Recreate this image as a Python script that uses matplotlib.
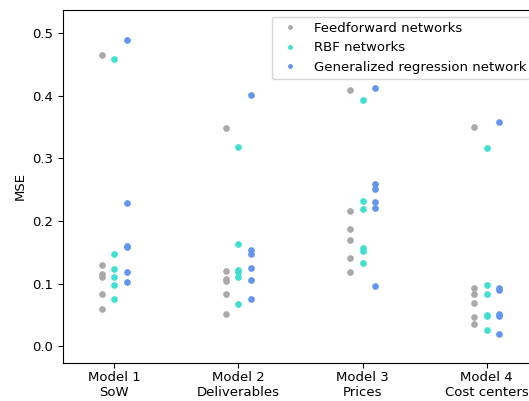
import matplotlib
matplotlib.use("Agg")
import matplotlib.pyplot as plt
import numpy as np

models = ["Model 1\nSoW", "Model 2\nDeliverables", "Model 3\nPrices", "Model 4\nCost centers"]
series_names = ["Feedforward networks", "RBF networks", "Generalized regression network"]
colors = ["#A9A9A9", "#40E0D0", "#6495ED"]

feedforward = [
    [0.465, 0.130, 0.115, 0.110, 0.083, 0.059],
    [0.348, 0.121, 0.108, 0.105, 0.084, 0.052],
    [0.410, 0.216, 0.187, 0.170, 0.141, 0.118],
    [0.351, 0.093, 0.083, 0.069, 0.047, 0.036],
]
rbf = [
    [0.459, 0.148, 0.124, 0.110, 0.098, 0.075],
    [0.319, 0.164, 0.122, 0.119, 0.110, 0.068],
    [0.394, 0.232, 0.219, 0.157, 0.153, 0.133],
    [0.317, 0.098, 0.084, 0.050, 0.049, 0.026],
]
grnn = [
    [0.489, 0.229, 0.160, 0.158, 0.118, 0.103],
    [0.402, 0.154, 0.147, 0.125, 0.106, 0.076],
    [0.412, 0.259, 0.251, 0.230, 0.221, 0.096],
    [0.359, 0.093, 0.090, 0.051, 0.049, 0.020],
]
all_series = [feedforward, rbf, grnn]
offsets = [-0.1, 0.0, 0.1]

plt.rcParams['font.size'] = 9.5

fig = plt.figure(figsize=(5.29, 4.01), dpi=100)
ax = fig.add_axes([62.7 / 529, 38 / 401, 475.6 / 529, 353 / 401])

for name, data, col, off in zip(series_names, all_series, colors, offsets):
    xs, ys = [], []
    for i, vals in enumerate(data):
        xs += [i + off] * len(vals)
        ys += vals
    ax.plot(xs, ys, 'o', ms=3.8, color=col, label=name, linestyle='none')

ax.set_xticks(range(len(models)))
ax.set_xticklabels(models)
ax.tick_params(axis='x', pad=2.5)
ax.set_xlim(-0.415, 3.415)
ax.set_ylim(-0.0265, 0.537)
ax.set_yticks([0.0, 0.1, 0.2, 0.3, 0.4, 0.5])
ax.set_ylabel("MSE")
ax.legend(loc="upper right", markerscale=0.65)

fig.savefig("out.png", dpi=100)
